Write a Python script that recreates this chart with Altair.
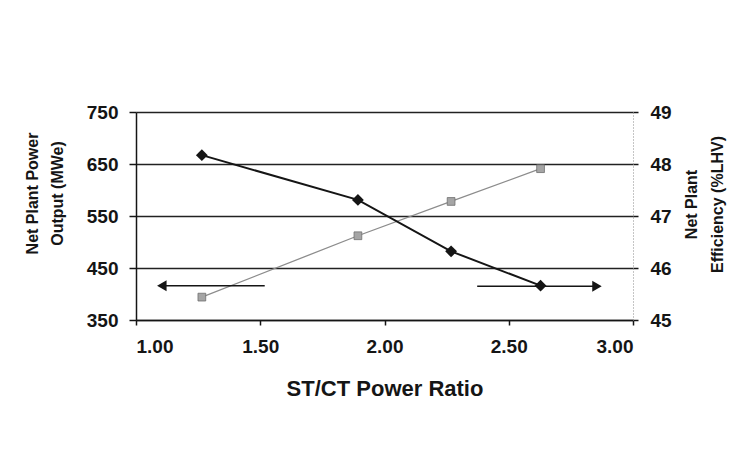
import altair as alt
import pandas as pd

# ---- data ----
ratio = [1.265, 1.893, 2.268, 2.628]
power_mwe = [394, 512, 578, 641]
efficiency_lhv = [48.17, 47.31, 46.32, 45.66]

x_ticks = [1.0, 1.5, 2.0, 2.5, 3.0]
power_ticks = [350, 450, 550, 650, 750]
eff_ticks = [45, 46, 47, 48, 49]

# arrows pointing to the axis each series belongs to
arrow_tail = [1.518, 2.373]
arrow_tip = [1.104, 2.855]
arrow_level = [416, 415]
arrow_shape = ["triangle-left", "triangle-right"]

FONT = "Liberation Sans"
INK = "#151515"

df = pd.DataFrame({"x": ratio, "p": power_mwe, "e": efficiency_lhv})
arrows = pd.DataFrame({"x": arrow_tail, "x2": arrow_tip, "p": arrow_level, "shape": arrow_shape})
dummy = pd.DataFrame({"a": [0]})

xscale = alt.Scale(domain=[1, 3], nice=False, zero=False)
xaxis = alt.Axis(values=x_ticks, format=".2f", title="ST/CT Power Ratio", grid=False,
                 tickSize=5, tickColor=INK, tickWidth=1.5, labelPadding=12,
                 labelFontSize=19, labelFontWeight="bold",
                 domainColor=INK, domainWidth=1.5,
                 titleFontSize=22, titleFontWeight="bold", titleY=68, titleBaseline="middle")

lscale = alt.Scale(domain=[350, 750], nice=False, zero=False)
laxis = alt.Axis(orient="left", values=power_ticks, title=["Net Plant Power", "Output (MWe)"],
                 grid=True, gridColor="#222222", gridWidth=1.6,
                 tickSize=7, tickColor=INK, tickWidth=1.5, labelPadding=11,
                 labelFontSize=19, labelFontWeight="bold",
                 domainColor=INK, domainWidth=1.5,
                 titleFontSize=16, titleFontWeight="bold", titleAngle=270,
                 titleX=-104, titleY=81, titleBaseline="middle", titleAlign="center",
                 titleLineHeight=25)

rscale = alt.Scale(domain=[45, 49], nice=False, zero=False)
raxis = alt.Axis(orient="right", values=eff_ticks, title=["Net Plant", "Efficiency (%LHV)"],
                 grid=False, tickSize=5, tickColor=INK, tickWidth=1.5, labelPadding=12,
                 labelFontSize=19, labelFontWeight="bold",
                 domainColor="#8a8a8a", domainWidth=1, domainDash=[1, 2],
                 titleFontSize=16, titleFontWeight="bold", titleAngle=270,
                 titleX=58, titleY=92, titleBaseline="middle", titleAlign="center",
                 titleLineHeight=26)

X = alt.X("x:Q", scale=xscale, axis=xaxis)
YL = alt.Y("p:Q", scale=lscale, axis=laxis)
YR = alt.Y("e:Q", scale=rscale, axis=raxis)

gray_line = alt.Chart(df).mark_line(color="#8c8c8c", strokeWidth=1.3).encode(x=X, y=YL)
gray_pts = alt.Chart(df).mark_square(size=60, color="#a5a5a5", stroke="#6e6e6e",
                                     strokeWidth=0.8, opacity=1).encode(x=X, y=YL)
shafts = alt.Chart(arrows).mark_rule(color=INK, strokeWidth=1.5).encode(x=X, x2="x2:Q", y=YL)
heads = alt.Chart(arrows).mark_point(filled=True, size=120, color=INK, opacity=1).encode(
    x=alt.X("x2:Q", scale=xscale, axis=xaxis), y=YL,
    shape=alt.Shape("shape:N", scale=None))

# thin scanned-page frame (top and left edges)
frame_top = alt.Chart(dummy).mark_rule(color="#555555", strokeWidth=1.2, clip=False).encode(
    x=alt.value(-129), x2=alt.value(620), y=alt.value(-106.5))
frame_left = alt.Chart(dummy).mark_rule(color="#9a9a9a", strokeWidth=1.2, strokeDash=[1, 1],
                                        clip=False).encode(
    x=alt.value(-130.5), y=alt.value(-105), y2=alt.value(337))

left = alt.layer(gray_line, gray_pts, shafts, heads, frame_top, frame_left)

black_line = alt.Chart(df).mark_line(color=INK, strokeWidth=2).encode(x=X, y=YR)
black_pts = alt.Chart(df).mark_point(shape="diamond", filled=True, size=140, color=INK,
                                     opacity=1).encode(x=X, y=YR)
right = alt.layer(black_line, black_pts)

chart = alt.layer(left, right).resolve_scale(y="independent").properties(
    width=497, height=208,
    autosize=alt.AutoSizeParams(type="none"),
    padding={"left": 128, "top": 104, "right": 111, "bottom": 121},
    background="white",
).configure_view(stroke=None).configure_axis(
    labelFont=FONT, titleFont=FONT, labelColor=INK, titleColor=INK
)

chart.save("out.html", embed_options={"renderer": "svg", "actions": False})
